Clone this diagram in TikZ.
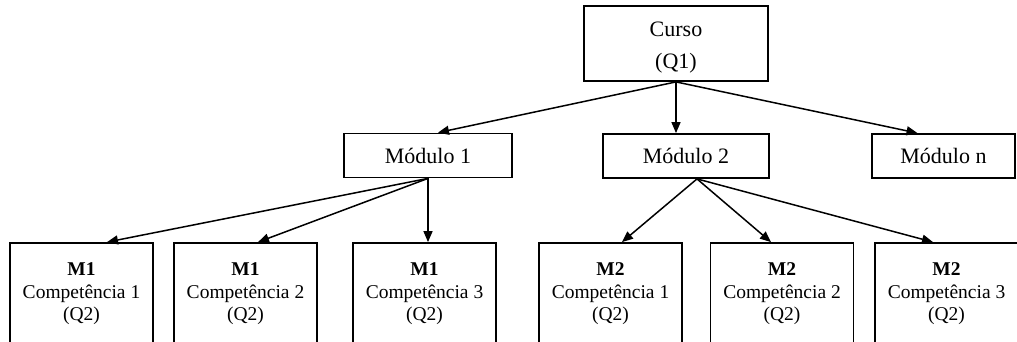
\documentclass[tikz,border=0pt]{standalone}
\usepackage{fontspec}
\setmainfont{Liberation Serif}
\usetikzlibrary{arrows.meta}
\begin{document}
\begin{tikzpicture}[x=1pt,y=-1pt,
  box/.style={draw=black, line width=1.8pt, rectangle, inner sep=0pt, align=center},
  topbox/.style={box, minimum width=184pt, minimum height=75pt},
  toptext/.style={font=\fontsize{22}{32}\selectfont, align=center, yshift=-4pt},
  modbox/.style={box, minimum height=44pt, font=\fontsize{22}{26}\selectfont},
  compbox/.style={box, minimum width=143pt, minimum height=102pt,
    font=\fontsize{19.5}{22.5}\selectfont},
  link/.style={line width=1.5pt, -{Triangle[length=11pt,width=9pt]}}]
\useasboundingbox (0,0) rectangle (1017,341);
\begin{scope}
\clip (0,0) rectangle (1017,341);
% course
\node[topbox, label={[toptext]center:Curso\\(Q1)}] (curso) at (676,43.5) {};
% modules
\node[modbox, minimum width=168pt] (m1) at (428,155.5) {Módulo 1};
\node[modbox, minimum width=166pt] (m2) at (686,156) {Módulo 2};
\node[modbox, minimum width=143pt] (mn) at (943.5,156) {Módulo n};
% competences
\node[compbox] (a1) at (81.5,294)  {\textbf{M1}\\Competência 1\\(Q2)};
\node[compbox] (a2) at (245.5,294) {\textbf{M1}\\Competência 2\\(Q2)};
\node[compbox] (a3) at (424.5,294) {\textbf{M1}\\Competência 3\\(Q2)};
\node[compbox] (b1) at (610.5,294) {\textbf{M2}\\Competência 1\\(Q2)};
\node[compbox] (b2) at (782,294)   {\textbf{M2}\\Competência 2\\(Q2)};
\node[compbox] (b3) at (946.5,294) {\textbf{M2}\\Competência 3\\(Q2)};
% course -> modules
\draw[link] (curso.south) -- ([xshift=10pt]m1.north);
\draw[link] (curso.south) -- (curso.south |- m2.north);
\draw[link] (curso.south) -- ([xshift=-26pt]mn.north);
% module 1 -> competences
\draw[link] (m1.south) -- ([xshift=25.5pt]a1.north);
\draw[link] (m1.south) -- ([xshift=12.5pt]a2.north);
\draw[link] (m1.south) -- (m1.south |- a3.north);
% module 2 -> competences
\draw[link] ([xshift=11pt]m2.south) -- ([xshift=11.5pt]b1.north);
\draw[link] ([xshift=11pt]m2.south) -- ([xshift=-11pt]b2.north);
\draw[link] ([xshift=11pt]m2.south) -- ([xshift=-13.5pt]b3.north);
\end{scope}
\end{tikzpicture}
\end{document}
